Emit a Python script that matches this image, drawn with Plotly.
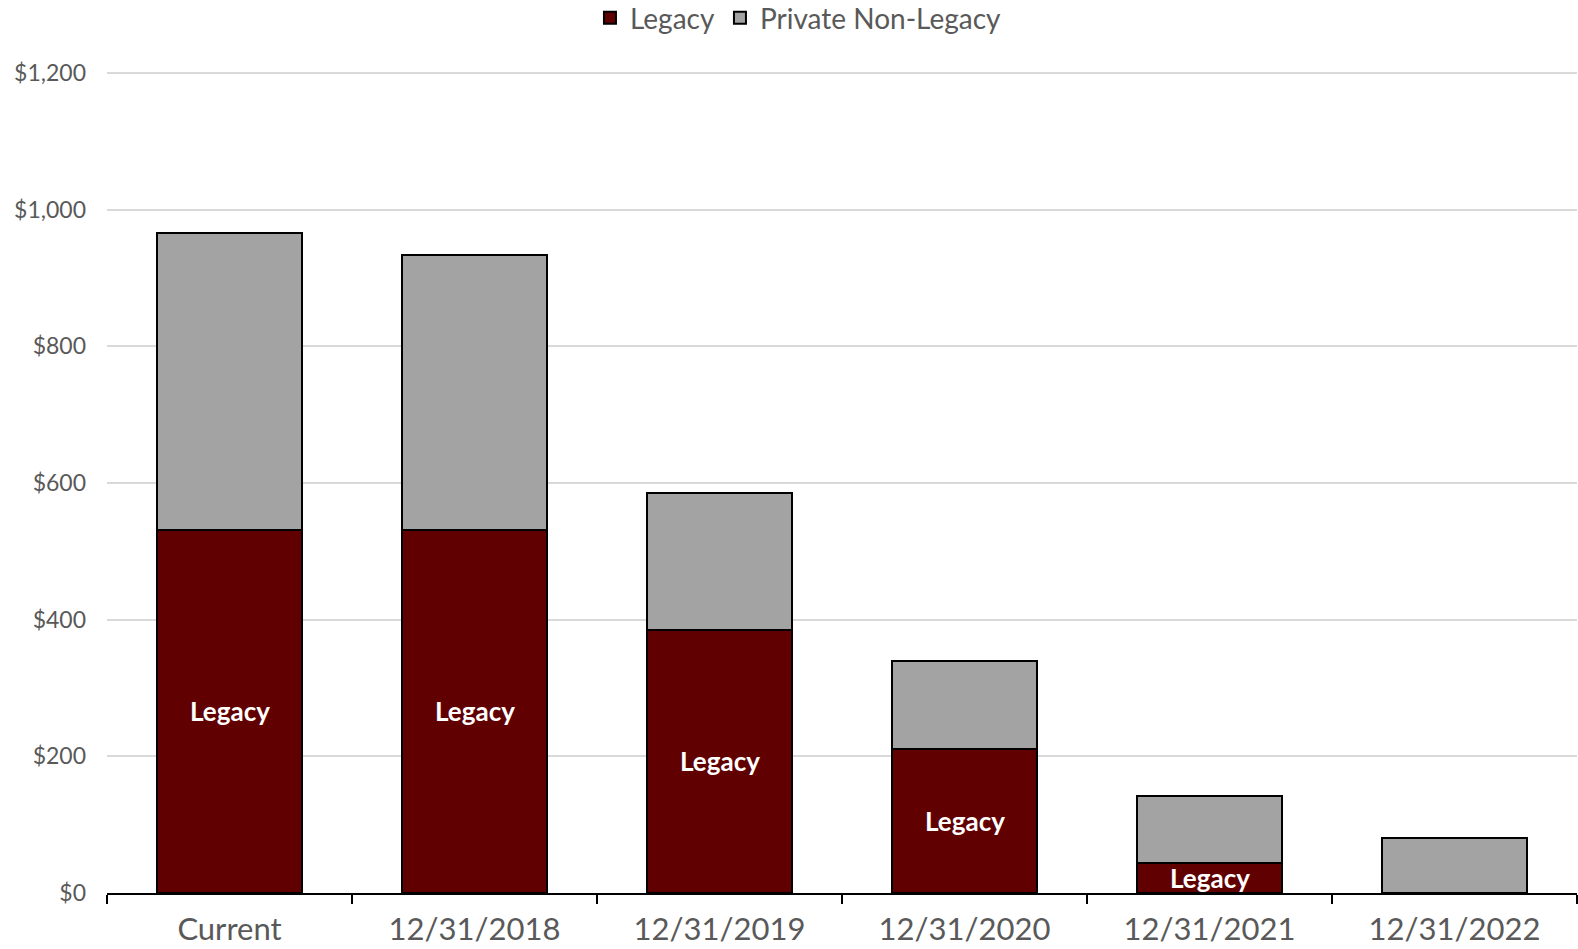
import plotly.graph_objects as go

categories = ["Current", "12/31/2018", "12/31/2019", "12/31/2020", "12/31/2021", "12/31/2022"]
legacy = [532, 532, 385, 211, 44, 0]
private_non_legacy = [434, 402, 201, 128, 98, 81]
y_ticks = [0, 200, 400, 600, 800, 1000, 1200]
y_tick_labels = ["$0", "$200", "$400", "$600", "$800", "$1,000", "$1,200"]

FONT = "Lato"
GRAY_TXT = "#595959"

fig = go.Figure()
fig.add_trace(go.Bar(
    name="Legacy", x=categories, y=legacy,
    marker=dict(color="#600000", line=dict(color="black", width=2)),
))
fig.add_trace(go.Bar(
    name="Private Non-Legacy", x=categories, y=private_non_legacy,
    marker=dict(color="#A3A3A3", line=dict(color="black", width=2)),
))

for c, v in zip(categories, legacy):
    if v > 0:
        fig.add_annotation(x=c, y=v / 2, text="<b>Legacy</b>", showarrow=False,
                           font=dict(family=FONT, size=26, color="white"),
                           yanchor="middle")

fig.update_layout(
    barmode="stack", bargap=0.41,
    width=1578, height=949,
    margin=dict(l=107, r=1, t=69, b=56, autoexpand=False),
    plot_bgcolor="white", paper_bgcolor="white",
    font=dict(family=FONT, color=GRAY_TXT),
    legend=dict(orientation="h", xref="container", x=0.506, xanchor="center",
                yref="container", y=0.981, yanchor="middle",
                font=dict(size=28, color=GRAY_TXT, family=FONT), traceorder="normal",
                itemwidth=30, tracegroupgap=0),
    showlegend=True,
)
fig.update_xaxes(
    type="category", showline=True, linecolor="black", linewidth=1.5,
    ticks="outside", tickson="boundaries", ticklen=9, tickcolor="black", tickwidth=1.5,
    tickfont=dict(size=31, color=GRAY_TXT, family=FONT), showgrid=False, automargin=False,
    ticklabelstandoff=8,
)
fig.update_yaxes(
    range=[0, 1206], tickvals=y_ticks, ticktext=y_tick_labels,
    showgrid=True, gridcolor="#D9D9D9", gridwidth=1.5,
    zeroline=False, showline=False, ticks="", automargin=False,
    tickfont=dict(size=23, color=GRAY_TXT, family=FONT), ticklabelstandoff=20,
)
fig.write_html("out.html", config={"displayModeBar": False},
               post_script="document.body.style.margin='0';")
